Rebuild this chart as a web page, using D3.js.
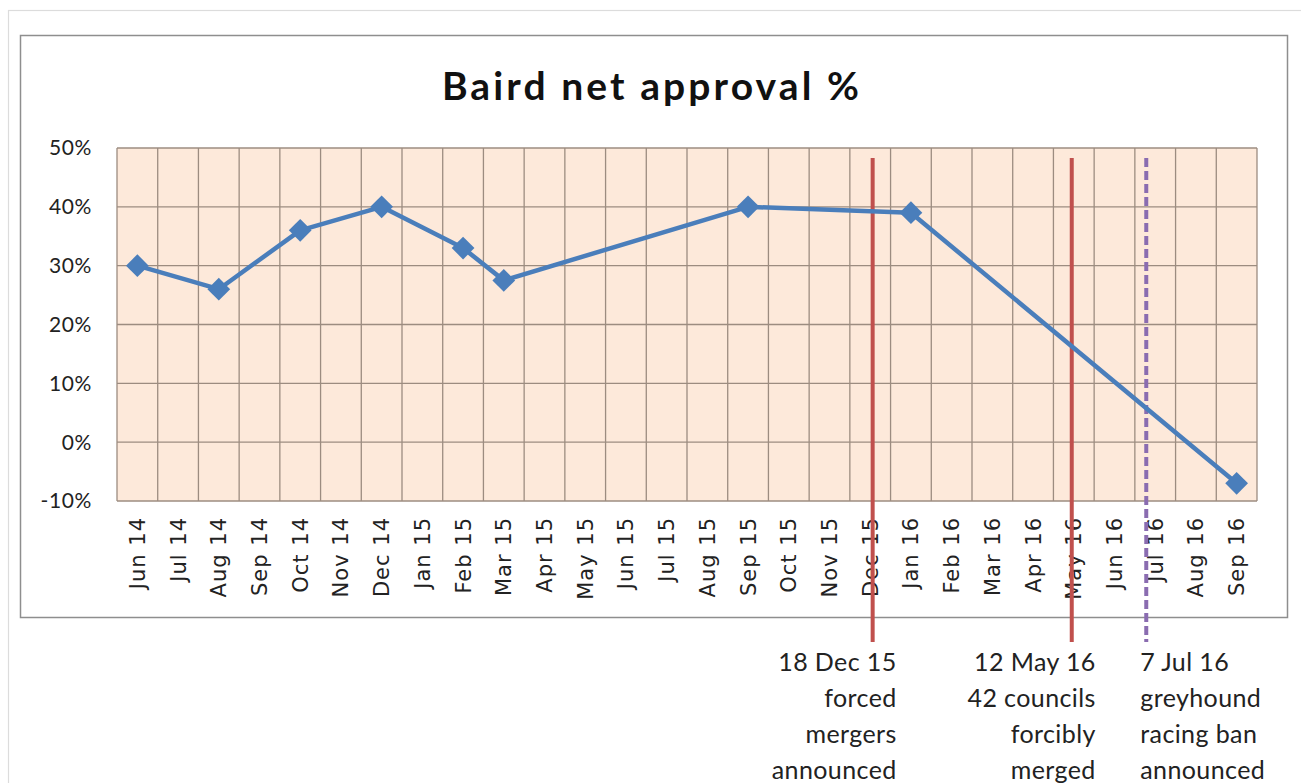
<!DOCTYPE html>
<html>
  <head>
    <meta charset="utf-8">
    <title>Baird net approval</title>
    <script src="https://d3js.org/d3.v7.min.js"></script>
    <style>
      body {
        margin: 0;
        background: #fff;
        font-family: Lato, sans-serif;
      }
      .grid line {
        stroke: #9c8c80;
        stroke-width: 1.3px;
      }
      .ytick text {
        font-size: 21px;
        letter-spacing: 0.6px;
        fill: #222;
      }
      .xtick text {
        font-family: "DejaVu Sans", sans-serif;
        font-size: 21px;
        letter-spacing: 1px;
        fill: #222;
      }
      .note text {
        font-size: 25px;
        letter-spacing: 0.4px;
        fill: #222;
      }
    </style>
  </head>
  <body>
    <div id="chart"></div>
    <script>
      // month categories along the x axis
      const months = ["Jun 14", "Jul 14", "Aug 14", "Sep 14", "Oct 14", "Nov 14",
        "Dec 14", "Jan 15", "Feb 15", "Mar 15", "Apr 15", "May 15", "Jun 15",
        "Jul 15", "Aug 15", "Sep 15", "Oct 15", "Nov 15", "Dec 15", "Jan 16",
        "Feb 16", "Mar 16", "Apr 16", "May 16", "Jun 16", "Jul 16", "Aug 16", "Sep 16"];

      // polls (only some months have a value)
      const pollMonths = ["Jun 14", "Aug 14", "Oct 14", "Dec 14", "Feb 15", "Mar 15",
        "Sep 15", "Jan 16", "Sep 16"];
      const netApproval = [30, 26, 36, 40, 33, 27.5, 40, 39, -7];

      const yTicks = [-10, 0, 10, 20, 30, 40, 50];

      // event markers: month + fraction of the month column where the line was drawn
      const eventMonths = ["Dec 15", "May 16", "Jul 16"];
      const eventFrac = [0.56, 0.45, 0.28];
      const eventDashed = [false, false, true];
      const eventLines = [
        ["18 Dec 15", "forced", "mergers", "announced"],
        ["12 May 16", "42 councils", "forcibly", "merged"],
        ["7 Jul 16", "greyhound", "racing ban", "announced"]
      ];
      const eventAlign = ["end", "end", "start"];

      const width = 1301, height = 783;
      const plot = {left: 117, right: 1257, top: 148, bottom: 501};

      const svg = d3.select("#chart").append("svg")
        .attr("width", width)
        .attr("height", height);

      // faint outer frame and the chart box
      svg.append("rect")
        .attr("x", 8.5).attr("y", 10.5)
        .attr("width", 1310).attr("height", 800)
        .attr("fill", "none").attr("stroke", "#dcdcdc").attr("stroke-width", 1.2);
      svg.append("rect")
        .attr("x", 20.5).attr("y", 35.5)
        .attr("width", 1267).attr("height", 582)
        .attr("fill", "#fff").attr("stroke", "#8e8e8e").attr("stroke-width", 1.5);

      svg.append("text")
        .attr("x", 652).attr("y", 100)
        .attr("text-anchor", "middle")
        .style("font-weight", "bold")
        .style("font-size", "39px")
        .style("letter-spacing", "3.1px")
        .attr("fill", "#111")
        .text("Baird net approval %");

      const x = d3.scaleBand().domain(months).range([plot.left, plot.right]).padding(0);
      const y = d3.scaleLinear().domain([-10, 50]).range([plot.bottom, plot.top]);
      const cx = m => x(m) + x.bandwidth() / 2;

      svg.append("rect")
        .attr("x", plot.left).attr("y", plot.top)
        .attr("width", plot.right - plot.left).attr("height", plot.bottom - plot.top)
        .attr("fill", "#fde9da");

      const grid = svg.append("g").attr("class", "grid");
      grid.selectAll(".hl").data(yTicks).join("line")
        .attr("x1", plot.left).attr("x2", plot.right)
        .attr("y1", d => y(d)).attr("y2", d => y(d));
      grid.selectAll(".vl").data(months.concat(["end"])).join("line")
        .attr("x1", (d, i) => plot.left + i * x.bandwidth())
        .attr("x2", (d, i) => plot.left + i * x.bandwidth())
        .attr("y1", plot.top).attr("y2", plot.bottom);

      // y axis labels
      svg.append("g").attr("class", "ytick")
        .selectAll("text").data(yTicks).join("text")
        .attr("x", 92).attr("y", d => y(d))
        .attr("dy", "0.35em")
        .attr("text-anchor", "end")
        .text(d => d + "%");

      // x axis labels, rotated
      svg.append("g").attr("class", "xtick")
        .selectAll("text").data(months).join("text")
        .attr("transform", d => `translate(${cx(d)},517) rotate(-90)`)
        .attr("text-anchor", "end")
        .attr("dy", "0.36em")
        .text(d => d);

      // event lines
      const ev = svg.append("g");
      eventMonths.forEach((m, i) => {
        const ex = x(m) + eventFrac[i] * x.bandwidth();
        ev.append("line")
          .attr("x1", ex).attr("x2", ex)
          .attr("y1", 158).attr("y2", 642)
          .attr("stroke", eventDashed[i] ? "#8a6cb0" : "#c0504d")
          .attr("stroke-width", 4)
          .attr("stroke-dasharray", eventDashed[i] ? "9,4" : null);
      });

      // poll line
      const pts = pollMonths.map((m, i) => [cx(m), y(netApproval[i])]);
      svg.append("path")
        .attr("d", d3.line()(pts))
        .attr("fill", "none")
        .attr("stroke", "#4a7ebb")
        .attr("stroke-width", 4.5)
        .attr("stroke-linejoin", "round");
      svg.append("g").selectAll("path").data(pts).join("path")
        .attr("transform", d => `translate(${d[0]},${d[1]})`)
        .attr("d", d3.symbol(d3.symbolDiamond2, 330)())
        .attr("fill", "#4a7ebb");

      // event notes
      const notes = svg.append("g").attr("class", "note");
      eventLines.forEach((lines, i) => {
        const anchorX = eventAlign[i] === "end"
          ? x(eventMonths[i]) + eventFrac[i] * x.bandwidth() + 24
          : x(eventMonths[i]) + eventFrac[i] * x.bandwidth() - 6;
        notes.append("text")
          .attr("text-anchor", eventAlign[i])
          .selectAll("tspan").data(lines).join("tspan")
          .attr("x", anchorX)
          .attr("y", (d, j) => 671 + j * 36)
          .text(d => d);
      });
    </script>
  </body>
</html>
